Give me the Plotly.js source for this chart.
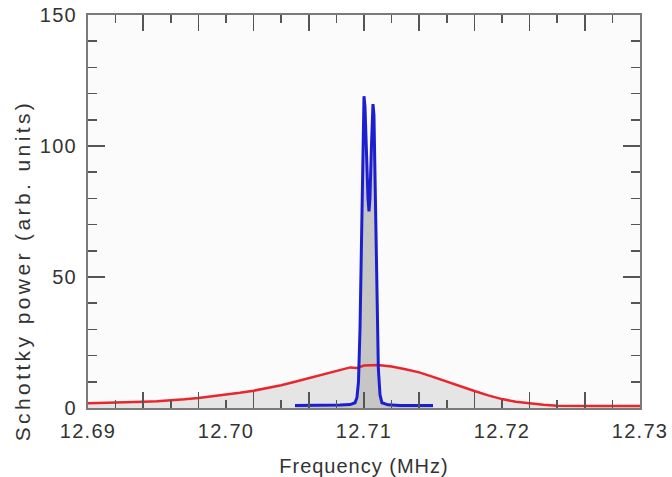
<!DOCTYPE html>
<html>
<head>
<meta charset="utf-8">
<script src="https://cdn.plot.ly/plotly-3.0.1.min.js"></script>
<style>
html, body { margin: 0; padding: 0; background: #ffffff; }
#chart { width: 672px; height: 477px; }
.xtick text, .ytick text { letter-spacing: 1.3px; }
.xtitle { letter-spacing: 1px; }
.annotation-text { letter-spacing: 3.4px; }
</style>
</head>
<body>
<div id="chart"></div>
<script>
// Broad (red) Schottky spectrum
const redFreq = [12.690, 12.691, 12.692, 12.693, 12.694, 12.695, 12.696, 12.697, 12.698, 12.699,
                 12.700, 12.701, 12.702, 12.703, 12.704, 12.705, 12.706, 12.707, 12.708, 12.709,
                 12.7095, 12.7100, 12.711, 12.712, 12.713, 12.714, 12.715, 12.716, 12.717, 12.718,
                 12.719, 12.720, 12.721, 12.722, 12.723, 12.724, 12.725, 12.726, 12.727, 12.728,
                 12.729, 12.730];
const redPower = [1.8, 1.9, 2.0, 2.2, 2.4, 2.6, 2.9, 3.3, 3.8, 4.4,
                  5.1, 5.8, 6.6, 7.6, 8.7, 10.0, 11.4, 12.8, 14.1, 15.5,
                  15.3, 16.2, 16.4, 15.8, 14.8, 13.6, 11.9, 10.0, 8.2, 6.5,
                  4.8, 3.4, 2.4, 1.7, 1.2, 0.9, 0.8, 0.8, 0.8, 0.8,
                  0.8, 0.8];

// Narrow (blue) Schottky spectrum
const blueFreq = [12.7050, 12.7060, 12.7070, 12.7080, 12.70826, 12.70899, 12.70935, 12.70949,
                  12.70960, 12.70971, 12.70982, 12.70993, 12.71000, 12.71007, 12.71018, 12.71029,
                  12.71036, 12.71043, 12.71054, 12.71065, 12.71072, 12.71083, 12.71094, 12.71104,
                  12.71116, 12.71130, 12.71174, 12.71261, 12.7140, 12.7150];
const bluePower = [1.0, 1.0, 1.0, 1.05, 1.1, 1.3, 2.0, 4.0,
                   10, 30, 60, 100, 119, 115, 95, 80,
                   75, 80, 100, 116, 112, 80, 40, 15,
                   5, 2, 1.2, 1.0, 1.0, 1.0];

// Axis ticks and labels
const xLabelVals = [12.69, 12.70, 12.71, 12.72, 12.73];
const xLabelText = ['12.69', '12.70', '12.71', '12.72', '12.73'];
const yLabelVals = [0, 50, 100, 150];
const yLabelText = ['0', '50', '100', '150'];
const xTitle = 'Frequency (MHz)';
const yTitle = 'Schottky power (arb. units)';

const font = 'Liberation Sans, Arial, sans-serif';
const textColor = '#333333';
const axisColor = '#7a7a7a';
const tickColor = '#555555';

const traces = [
  { x: redFreq, y: redPower, type: 'scatter', mode: 'lines', fill: 'tozeroy',
    fillcolor: '#e5e5e5', line: { width: 0, color: 'rgba(0,0,0,0)' }, hoverinfo: 'skip', showlegend: false },
  { x: blueFreq, y: bluePower, type: 'scatter', mode: 'lines', fill: 'tozeroy',
    fillcolor: '#c6c6c6', line: { width: 0, color: 'rgba(0,0,0,0)' }, hoverinfo: 'skip', showlegend: false },
  { x: redFreq, y: redPower, type: 'scatter', mode: 'lines',
    line: { color: '#e8262b', width: 2.5 }, showlegend: false },
  { x: blueFreq, y: bluePower, type: 'scatter', mode: 'lines', xaxis: 'x2',
    line: { color: '#1c1fd0', width: 3 }, showlegend: false }
];

const layout = {
  width: 672, height: 477,
  margin: { l: 88, r: 32, t: 15, b: 69 },
  paper_bgcolor: '#ffffff',
  plot_bgcolor: '#fbfbfb',
  font: { family: font, size: 20, color: textColor },
  showlegend: false,
  xaxis: {
    range: [12.69, 12.73],
    tickmode: 'array', tickvals: xLabelVals, ticktext: xLabelText,
    ticks: '', showgrid: false, zeroline: false,
    showline: true, mirror: true, linecolor: axisColor, linewidth: 2,
    ticklabelstandoff: 4,
    tickfont: { family: font, size: 20, color: textColor },
    title: { text: xTitle, font: { family: font, size: 20, color: textColor }, standoff: 20 }
  },
  xaxis2: {
    overlaying: 'x', anchor: 'y', side: 'bottom',
    range: [12.69, 12.73],
    tickmode: 'linear', tick0: 12.69, dtick: 0.004,
    ticks: 'inside', ticklen: 16, tickwidth: 1.5, tickcolor: tickColor,
    showticklabels: false, showgrid: false, zeroline: false,
    showline: false, mirror: 'ticks',
    minor: { tickmode: 'linear', tick0: 12.69, dtick: 0.002, ticks: 'inside', ticklen: 8, tickwidth: 1.5, tickcolor: tickColor, showgrid: false }
  },
  yaxis: {
    range: [0, 150],
    tickmode: 'array', tickvals: yLabelVals, ticktext: yLabelText,
    ticks: 'inside', ticklen: 17, tickwidth: 1.5, tickcolor: tickColor,
    minor: { tickmode: 'linear', tick0: 0, dtick: 10, ticks: 'inside', ticklen: 9, tickwidth: 1.5, tickcolor: tickColor, showgrid: false },
    showgrid: false, zeroline: false,
    showline: true, mirror: 'ticks', linecolor: axisColor, linewidth: 2,
    ticklabelstandoff: 5,
    tickfont: { family: font, size: 20, color: textColor }
  },
  annotations: [
    { text: yTitle, xref: 'paper', yref: 'paper', x: -0.118, y: 0.35,
      xanchor: 'center', yanchor: 'middle', textangle: -90, showarrow: false,
      font: { family: font, size: 21, color: textColor } }
  ]
};

Plotly.newPlot('chart', traces, layout, { staticPlot: true, displayModeBar: false });
</script>
</body>
</html>
